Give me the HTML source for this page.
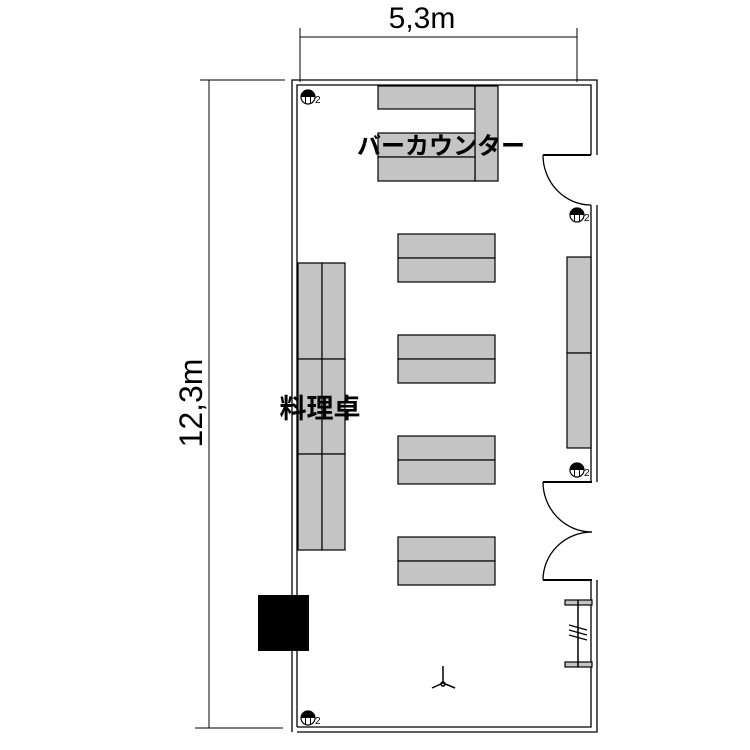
<!DOCTYPE html>
<html><head><meta charset="utf-8"><style>
html,body{margin:0;padding:0;background:#fff;}
svg{display:block;}
</style></head><body>
<svg width="750" height="750" viewBox="0 0 750 750" xmlns="http://www.w3.org/2000/svg">
<defs>
<g id="outlet">
<circle cx="0" cy="0" r="7" fill="#fff" stroke="#000" stroke-width="1.2"/>
<path d="M-7,0 A7,7 0 0 1 7,0 Z" fill="#000"/>
<line x1="-2.5" y1="-1" x2="-2.5" y2="7" stroke="#000" stroke-width="1"/>
<line x1="2.5" y1="-1" x2="2.5" y2="7" stroke="#000" stroke-width="1"/>
<text x="7" y="6" font-family="Liberation Sans, sans-serif" font-size="10">2</text>
</g>
</defs>
<g stroke="#000" stroke-width="1" fill="none">
<line x1="300" y1="37" x2="577" y2="37"/>
<line x1="300" y1="28" x2="300" y2="82"/>
<line x1="577" y1="28" x2="577" y2="82"/>
<line x1="209" y1="80" x2="209" y2="728"/>
<line x1="200" y1="80" x2="285" y2="80"/>
<line x1="195" y1="728" x2="283" y2="728"/>
</g>
<text x="422" y="28" text-anchor="middle" font-family="Liberation Sans, sans-serif" font-size="30">5,3m</text>
<text transform="translate(202,403) rotate(-90)" text-anchor="middle" font-family="Liberation Sans, sans-serif" font-size="32">12,3m</text>

<g stroke="#000" stroke-width="1.3" fill="none">
<polyline points="292,732 292,80 597,80 597,155"/>
<polyline points="297,727 297,85 591,85 591,155"/>
<line x1="543" y1="155" x2="591" y2="155" stroke-width="2"/>
<path d="M543,155 A48,50 0 0 0 591,205"/>
<polyline points="591,205 591,482"/>
<polyline points="597,205 597,482"/>
<line x1="543" y1="482" x2="592" y2="482" stroke-width="2"/>
<path d="M543,482 A49,50 0 0 0 592,532"/>
<path d="M543,580 A49,48 0 0 1 592,532"/>
<line x1="543" y1="580" x2="592" y2="580" stroke-width="2"/>
<polyline points="591,580 591,727 297,727"/>
<polyline points="597,580 597,732 297,732"/>
</g>

<g fill="#c4c4c4" stroke="#000" stroke-width="1.2">
<rect x="378" y="86" width="97" height="23"/>
<rect x="475" y="86" width="23" height="95"/>
<rect x="378" y="133" width="97" height="24"/>
<rect x="378" y="157" width="97" height="24"/>
<rect x="398" y="234" width="97" height="24"/><rect x="398" y="258" width="97" height="24"/>
<rect x="398" y="335" width="97" height="24"/><rect x="398" y="359" width="97" height="24"/>
<rect x="398" y="436" width="97" height="24"/><rect x="398" y="460" width="97" height="24"/>
<rect x="398" y="537" width="97" height="24"/><rect x="398" y="561" width="97" height="24"/>
<rect x="298" y="263" width="24" height="96"/><rect x="322" y="263" width="23" height="96"/>
<rect x="298" y="359" width="24" height="95"/><rect x="322" y="359" width="23" height="95"/>
<rect x="298" y="454" width="24" height="96"/><rect x="322" y="454" width="23" height="96"/>
<rect x="567" y="257" width="24" height="96"/><rect x="567" y="353" width="24" height="95"/>
<rect x="565" y="600" width="27" height="5"/>
<rect x="565" y="662" width="27" height="5"/>
</g>
<g stroke="#000" stroke-width="1.2">
<line x1="578" y1="600" x2="578" y2="667" stroke-width="1.5"/>
<line x1="569" y1="625" x2="587" y2="630"/>
<line x1="569" y1="630" x2="587" y2="635"/>
<line x1="569" y1="635" x2="587" y2="640"/>
</g>
<rect x="258" y="595" width="51" height="56" fill="#000"/>

<g stroke="#000" stroke-width="1.5" fill="none">
<line x1="443" y1="666" x2="443" y2="682"/>
<line x1="443" y1="683" x2="432" y2="688"/>
<line x1="443" y1="683" x2="455" y2="688"/>
<circle cx="443" cy="684" r="2"/>
</g>

<use href="#outlet" x="308" y="97"/>
<use href="#outlet" x="577" y="215"/>
<use href="#outlet" x="577" y="470"/>
<use href="#outlet" x="308" y="718"/>

<text x="441" y="154" text-anchor="middle" font-family="Liberation Sans, 'Noto Sans CJK JP', sans-serif" font-size="24" font-weight="bold">バーカウンター</text>
<text x="320" y="418" text-anchor="middle" font-family="Liberation Sans, 'Noto Sans CJK JP', sans-serif" font-size="27" font-weight="bold">料理卓</text>
</svg>
</body></html>
